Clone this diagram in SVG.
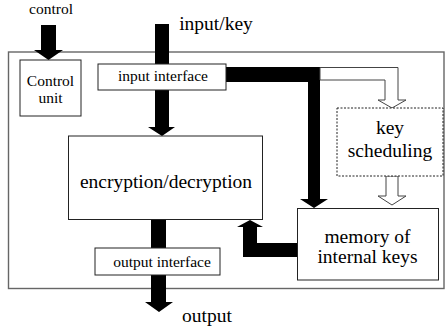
<svg xmlns="http://www.w3.org/2000/svg" width="445" height="328" viewBox="0 0 445 328">
<style>
.box{fill:#fff;stroke:#222;stroke-width:1}
.frame{fill:none;stroke:#666;stroke-width:1.4}
.dash{fill:#fff;stroke:#222;stroke-width:1;stroke-dasharray:2,1.5}
.solid{fill:#000;stroke:none}
.hollow{fill:#fff;stroke:#444;stroke-width:1}
text{fill:#000;text-anchor:middle;font-family:"Liberation Serif","Times New Roman",serif}
.big{font-size:19.5px}
.mid{font-size:15.5px}
</style>
<rect class="frame" x="8.5" y="52" width="435.5" height="236.5"/>
<g id="connectors">
<polygon class="solid" points="41,25 56,25 56,50 63,50 48.5,60 34,50 41,50"/>
<polygon class="solid" points="155,24 169,24 169,127 175,127 162,136 148,127 155,127"/>
<polygon class="solid" points="226,67 320,67 320,199 328,199 314,208 300,199 308,199 308,82 226,82"/>
<polygon class="hollow" points="320,67.5 398,67.5 398,100 406,100 392,108 378,100 385,100 385,80 320,80"/>
<polygon class="hollow" points="386,176 398,176 398,196 406,196 392,205 378,196 386,196"/>
<polygon class="solid" points="297,243 257,243 257,227 263,227 250,220 237,227 243,227 243,257 297,257"/>
<polygon class="solid" points="151,219 166,219 166,302 173,302 159,312 145,302 151,302"/>
</g>
<g id="label-control"><text class="mid" x="51" y="14">control</text></g>
<g id="label-input"><text class="big" x="216" y="30">input/key</text></g>
<g id="label-output"><text class="big" x="207" y="322">output</text></g>
<g id="control-unit">
<rect class="box" x="20" y="60" width="61" height="56"/>
<text class="mid" x="50.5" y="86">Control</text>
<text class="mid" x="50.5" y="103">unit</text>
</g>
<g id="input-interface">
<rect class="box" x="98" y="64" width="128" height="26"/>
<text class="mid" x="163" y="81">input interface</text>
</g>
<g id="encryption">
<rect class="box" x="68.5" y="136" width="194" height="83.5"/>
<text class="big" x="166" y="188">encryption/decryption</text>
</g>
<g id="output-interface">
<rect class="box" x="95" y="248" width="125" height="27"/>
<text class="mid" x="162" y="267">output interface</text>
</g>
<g id="key-scheduling">
<rect class="dash" x="337" y="108" width="106" height="68"/>
<text class="big" x="390" y="134">key</text>
<text class="big" x="390" y="157">scheduling</text>
</g>
<g id="memory">
<rect class="box" x="297.5" y="208.5" width="141" height="71.5"/>
<text class="big" x="367.5" y="243">memory of</text>
<text class="big" x="367.5" y="263">internal keys</text>
</g>
</svg>
